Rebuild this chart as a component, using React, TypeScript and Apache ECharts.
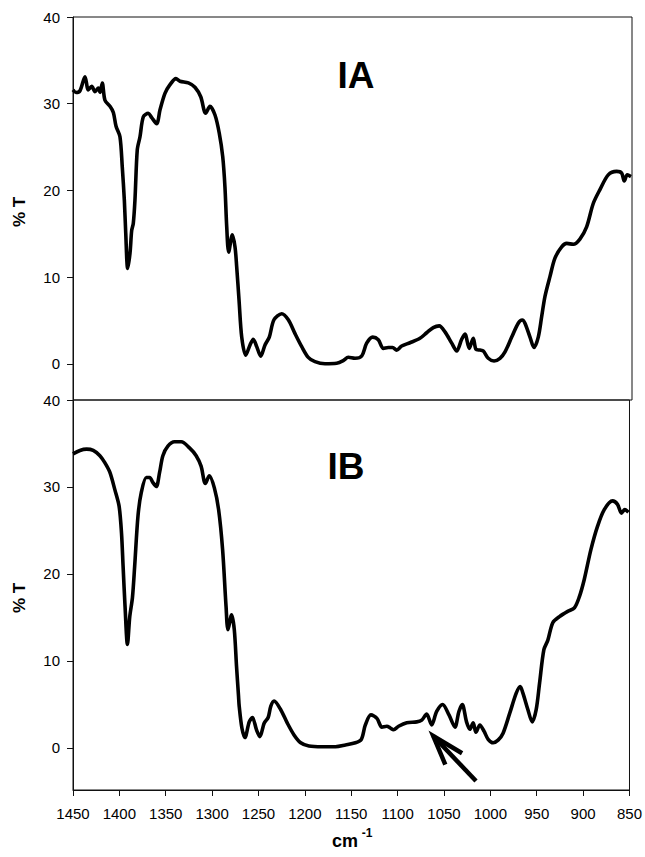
import React, { useEffect, useRef } from "react";
import * as echarts from "echarts";

// ---- Data (wavenumber cm-1, %T) ----
const topWavenumbers = [
  1450, 1446.8, 1442.5, 1437.1, 1433.6, 1429.9, 1426.4, 1422.8, 1421.0, 1418.6, 1415.7, 1410.3, 1406.7, 1403.8,
  1399.6, 1397.1, 1394.9, 1393.4, 1391.3, 1388.8, 1387.0, 1385.3, 1383.5, 1381.0, 1378.1, 1374.5, 1369.2, 1365.5,
  1360.2, 1356.6, 1351.3, 1345.9, 1339.5, 1335.2, 1326.2, 1319.1, 1312.9, 1307.6, 1303.0, 1297.6, 1293.0, 1289.3,
  1286.9, 1285.0, 1282.9, 1279.0, 1276.1, 1274.3, 1271.8, 1268.9, 1264.6, 1260.0, 1256.5, 1252.8, 1248.5, 1243.9,
  1239.3, 1234.3, 1226.0, 1218.9, 1211.7, 1204.5, 1197.5, 1190.3, 1179.5, 1167.0, 1159.9, 1154.5, 1147.3, 1140.1,
  1134.8, 1128.3, 1122.3, 1116.9, 1111.6, 1106.9, 1102.6, 1097.2, 1088.3, 1077.6, 1070.4, 1063.3, 1056.9, 1050.7,
  1043.5, 1038.2, 1032.8, 1029.3, 1024.7, 1020.4, 1017.5, 1013.2, 1009.6, 1004.3, 998.1, 991.7, 986.3, 979.1,
  972.1, 967.8, 964.9, 959.5, 955.2, 950.6, 946.9, 943.4, 938.0, 932.7, 925.5, 920.1, 913.0, 905.9, 898.7, 891.6,
  884.4, 875.5, 866.5, 861.1, 858.3, 855.1, 851.1,
];
const topTransmittance = [
  31.6, 31.3, 31.5, 33.1, 31.6, 32.0, 31.4, 31.8, 31.3, 32.4, 30.4, 29.7, 29.0, 27.4,
  26.2, 22.7, 18.9, 15.1, 11.0, 12.8, 15.4, 16.2, 18.9, 24.7, 26.2, 28.5, 28.9, 28.4,
  27.7, 29.3, 31.2, 32.2, 32.9, 32.6, 32.4, 31.9, 30.8, 28.9, 29.7, 28.7, 26.6, 23.9,
  20.4, 15.8, 12.9, 14.9, 13.5, 11.2, 7.4, 3.1, 1.0, 2.2, 2.85, 2.0, 0.9, 2.2,
  3.1, 5.1, 5.8, 5.1, 3.5, 2.0, 0.77, 0.27, 0.03, 0.08, 0.38, 0.77, 0.66, 0.92,
  2.4, 3.1, 2.8, 1.8, 1.9, 1.9, 1.6, 2.07, 2.45, 2.96, 3.6, 4.2, 4.4, 3.7,
  2.4, 1.5, 2.85, 3.46, 1.8, 2.96, 1.7, 1.6, 1.5, 0.66, 0.35, 0.66, 1.4, 3.1,
  4.7, 5.07, 4.7, 3.1, 1.9, 3.1, 5.5, 7.8, 10.1, 12.2, 13.5, 13.9, 13.8, 14.4, 15.8, 18.5,
  20.1, 21.8, 22.2, 22.0, 21.1, 21.8, 21.6,
];

const bottomWavenumbers = [
  1450, 1442.5, 1435.3, 1428.2, 1421.0, 1415.7, 1410.3, 1404.9, 1400.3, 1397.7, 1396.0, 1393.9, 1391.3, 1388.8,
  1385.9, 1383.5, 1379.9, 1376.3, 1370.9, 1367.4, 1363.8, 1360.2, 1356.6, 1353.1, 1347.7, 1340.5, 1333.3, 1324.4,
  1317.2, 1311.9, 1307.3, 1303.0, 1297.6, 1293.0, 1288.7, 1285.0, 1282.9, 1279.0, 1276.1, 1273.7, 1271.5, 1270.8,
  1267.9, 1264.6, 1260.0, 1256.5, 1252.2, 1248.5, 1243.9, 1239.6, 1236.7, 1233.2, 1226.0, 1218.9, 1211.7, 1204.5,
  1195.6, 1181.3, 1167.0, 1156.2, 1145.5, 1139.1, 1134.8, 1128.8, 1122.3, 1116.9, 1111.6, 1107.9, 1104.4, 1099.0,
  1090.1, 1079.4, 1074.0, 1068.7, 1063.3, 1057.9, 1051.5, 1044.6, 1038.2, 1033.9, 1030.3, 1025.7, 1022.1, 1018.5,
  1015.6, 1011.3, 1006.7, 1002.4, 997.1, 991.7, 986.3, 979.1, 972.1, 967.8, 964.9, 959.5, 954.9, 950.6,
  946.9, 942.3, 938.0, 932.7, 925.5, 916.6, 909.4, 904.0, 898.7, 891.6, 884.4, 877.2, 868.3, 862.9, 858.6, 855.1,
  851.1,
];
const bottomTransmittance = [
  33.8, 34.2, 34.35, 34.2, 33.6, 32.8, 31.7, 29.7, 27.8, 24.7, 20.9, 16.3, 11.9, 15.1,
  17.3, 20.9, 26.7, 29.4, 31.1, 31.1, 30.5, 30.05, 31.7, 33.6, 34.7, 35.2, 35.2, 34.5,
  33.6, 32.4, 30.4, 31.3, 29.9, 27.4, 22.8, 16.3, 13.6, 15.3, 13.6, 9.4, 5.9, 4.8,
  2.3, 1.2, 3.0, 3.5, 2.1, 1.3, 2.85, 3.5, 4.8, 5.4, 4.4, 2.85, 1.5, 0.6,
  0.23, 0.15, 0.15, 0.35, 0.6, 1.0, 2.65, 3.8, 3.4, 2.4, 2.5, 2.3, 2.1, 2.5,
  2.9, 3.0, 3.2, 3.9, 2.65, 4.2, 5.0, 3.8, 2.4, 4.2, 5.0, 3.0, 2.15, 2.9,
  1.8, 2.65, 1.9, 1.0, 0.6, 0.9, 1.7, 4.0, 6.3, 7.07, 6.3, 4.4, 3.0, 4.4,
  7.5, 11.3, 12.4, 14.4, 15.1, 15.7, 16.1, 17.4, 19.4, 22.8, 25.5, 27.4, 28.4, 28.0, 27.0, 27.4,
  27.1,
];

// Arrow annotation (data coordinates of the lower panel)
const arrowShaft = [[1015.5, -3.8], [1061.6, 1.38]];
const arrowHead = [[1030.5, -0.6], [1061.6, 1.38], [1048.6, -1.9]];

const yTickValues = [0, 10, 20, 30, 40];
const panelTitles = ["IA", "IB"];
const yTitle = "% T";
const xTitle = "cm";
const xTitleSup = "-1";

const FONT = "'Liberation Sans', Arial, Helvetica, sans-serif";

function zip(xs: number[], ys: number[]) {
  return xs.map((x, i) => [x, ys[i]]);
}

export default function App() {
  const ref = useRef<HTMLDivElement>(null);

  useEffect(() => {
    if (!ref.current) return;
    const chart = echarts.init(ref.current, undefined, { renderer: "svg" });

    const axisLine = { show: true, onZero: false, lineStyle: { color: "#111", width: 1 } };
    const yAxisCommon = {
      type: "value",
      max: 40,
      axisLine,
      splitLine: { show: false },
      axisTick: { show: true, inside: false, length: 6, lineStyle: { color: "#111" }, customValues: yTickValues },
      axisLabel: { show: true, margin: 13, color: "#000", fontSize: 15, fontFamily: FONT, customValues: yTickValues },
    };

    chart.setOption({
      animation: false,
      backgroundColor: "#fff",
      grid: [
        { left: 73, top: 17, width: 559, height: 383, show: true, borderColor: "#111", borderWidth: 1, backgroundColor: "transparent" },
        { left: 73, top: 400, width: 559, height: 390, show: true, borderColor: "#111", borderWidth: 1, backgroundColor: "transparent" },
      ],
      xAxis: [
        {
          type: "value", gridIndex: 0, min: 850, max: 1450, interval: 50, inverse: true,
          axisLine: { show: false, onZero: false }, axisTick: { show: false }, axisLabel: { show: false }, splitLine: { show: false },
        },
        {
          type: "value", gridIndex: 1, min: 850, max: 1450, interval: 50, inverse: true,
          axisLine,
          axisTick: { show: true, inside: false, length: 6, lineStyle: { color: "#111" } },
          axisLabel: {
            show: true, margin: 16, color: "#000", fontSize: 15, fontFamily: FONT,
            formatter: (v: number) => String(Math.round(v)),
          },
          splitLine: { show: false },
        },
      ],
      yAxis: [
        { ...yAxisCommon, gridIndex: 0, min: -4.15 },
        { ...yAxisCommon, gridIndex: 1, min: -4.83 },
      ],
      series: [
        {
          type: "line", xAxisIndex: 0, yAxisIndex: 0, data: zip(topWavenumbers, topTransmittance),
          showSymbol: false, smooth: 0.3, lineStyle: { color: "#000", width: 3.6 }, silent: true,
        },
        {
          type: "line", xAxisIndex: 1, yAxisIndex: 1, data: zip(bottomWavenumbers, bottomTransmittance),
          showSymbol: false, smooth: 0.3, lineStyle: { color: "#000", width: 3.6 }, silent: true,
        },
        {
          type: "line", xAxisIndex: 1, yAxisIndex: 1, data: arrowShaft,
          showSymbol: false, lineStyle: { color: "#000", width: 4.5 }, silent: true,
        },
        {
          type: "line", xAxisIndex: 1, yAxisIndex: 1, data: arrowHead,
          showSymbol: false, lineStyle: { color: "#000", width: 4.5, join: "miter" }, silent: true,
        },
      ],
      graphic: [
        { type: "text", x: 356, y: 75, style: { text: panelTitles[0], font: `bold 37px ${FONT}`, fill: "#000", textAlign: "center", textVerticalAlign: "middle" } },
        { type: "text", x: 346, y: 466, style: { text: panelTitles[1], font: `bold 37px ${FONT}`, fill: "#000", textAlign: "center", textVerticalAlign: "middle" } },
        { type: "text", x: 19, y: 212, rotation: Math.PI / 2, style: { text: yTitle, font: `bold 17px ${FONT}`, fill: "#000", textAlign: "center", textVerticalAlign: "middle" } },
        { type: "text", x: 19, y: 598, rotation: Math.PI / 2, style: { text: yTitle, font: `bold 17px ${FONT}`, fill: "#000", textAlign: "center", textVerticalAlign: "middle" } },
        { type: "text", x: 345, y: 841, style: { text: xTitle, font: `bold 18px ${FONT}`, fill: "#000", textAlign: "center", textVerticalAlign: "middle" } },
        { type: "text", x: 367, y: 833, style: { text: xTitleSup, font: `bold 12px ${FONT}`, fill: "#000", textAlign: "center", textVerticalAlign: "middle" } },
      ],
    });

    return () => chart.dispose();
  }, []);

  return (
    <div
      ref={ref}
      style={{ position: "absolute", left: 0, top: 0, width: 645, height: 857, background: "#fff" }}
    />
  );
}
